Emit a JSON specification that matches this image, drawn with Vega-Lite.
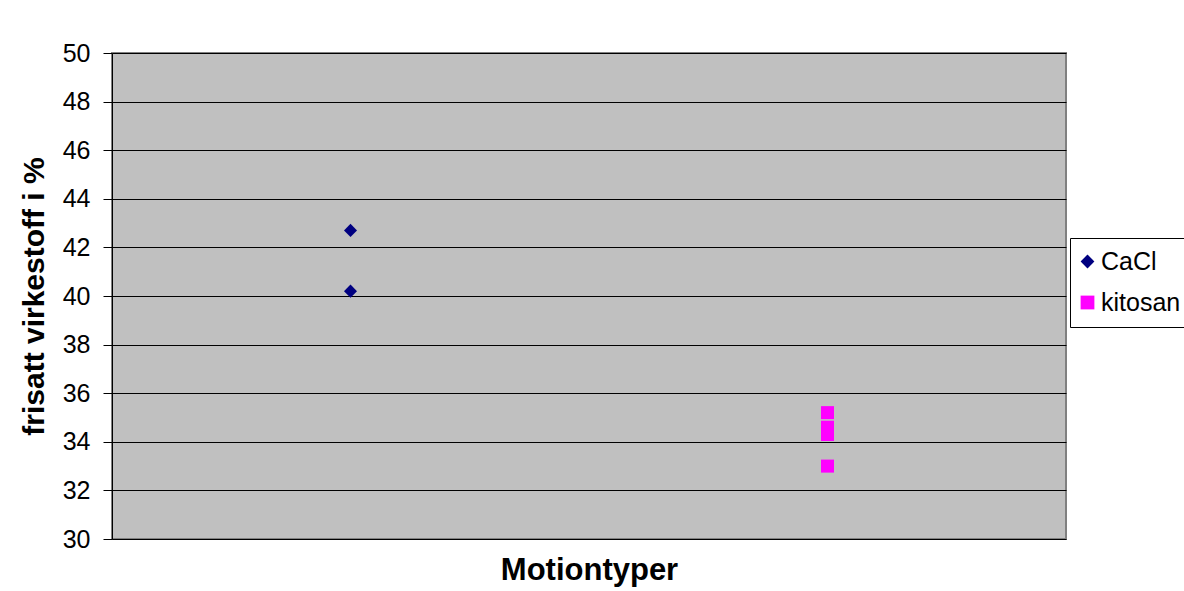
{
  "$schema": "https://vega.github.io/schema/vega-lite/v6.json",
  "width": 954,
  "height": 486,
  "autosize": {"type": "none"},
  "padding": {"left": 112, "top": 53, "right": 118, "bottom": 52},
  "background": "white",
  "data": {
    "values": [
      {"gruppe": 1, "serie": "CaCl", "frisatt": 42.7},
      {"gruppe": 1, "serie": "CaCl", "frisatt": 40.2},
      {"gruppe": 2, "serie": "kitosan", "frisatt": 35.2},
      {"gruppe": 2, "serie": "kitosan", "frisatt": 34.6},
      {"gruppe": 2, "serie": "kitosan", "frisatt": 34.3},
      {"gruppe": 2, "serie": "kitosan", "frisatt": 33.0}
    ]
  },
  "mark": {"type": "point", "filled": true, "opacity": 1, "size": 170},
  "encoding": {
    "x": {
      "field": "gruppe",
      "type": "quantitative",
      "scale": {"domain": [0.5, 2.5], "nice": false, "zero": false},
      "axis": {
        "title": "Motiontyper",
        "labels": false,
        "ticks": false,
        "domain": false,
        "grid": false,
        "titleFontSize": 31,
        "titleFontWeight": "bold",
        "titlePadding": 16
      }
    },
    "y": {
      "field": "frisatt",
      "type": "quantitative",
      "scale": {"domain": [30, 50], "nice": false, "zero": false},
      "axis": {
        "title": "frisatt virkestoff i %",
        "values": [30, 32, 34, 36, 38, 40, 42, 44, 46, 48, 50],
        "titleFontSize": 30,
        "titleFontWeight": "bold",
        "titlePadding": 13,
        "labelFontSize": 25,
        "labelPadding": 13,
        "tickSize": 9,
        "grid": true
      }
    },
    "color": {
      "field": "serie",
      "type": "nominal",
      "scale": {"domain": ["CaCl", "kitosan"], "range": ["#000080", "#FF00FF"]},
      "legend": {
        "title": null,
        "orient": "none",
        "legendX": 958,
        "legendY": 185,
        "padding": 11,
        "strokeColor": "black",
        "fillColor": "white",
        "symbolSize": 190,
        "symbolStrokeWidth": 0,
        "symbolOffset": -6,
        "labelFontSize": 25,
        "labelOffset": 1,
        "rowPadding": 15
      }
    },
    "shape": {
      "field": "serie",
      "type": "nominal",
      "scale": {"domain": ["CaCl", "kitosan"], "range": ["diamond", "square"]},
      "legend": null
    }
  },
  "config": {
    "font": "Liberation Sans",
    "view": {"fill": "#c0c0c0", "stroke": "#808080", "strokeWidth": 2},
    "axis": {
      "labelFont": "Liberation Sans",
      "titleFont": "Liberation Sans",
      "labelColor": "black",
      "titleColor": "black",
      "tickColor": "black",
      "domainColor": "black",
      "domainWidth": 1,
      "gridColor": "black",
      "gridWidth": 1,
      "gridOpacity": 1
    },
    "legend": {"labelFont": "Liberation Sans", "labelColor": "black"}
  }
}
